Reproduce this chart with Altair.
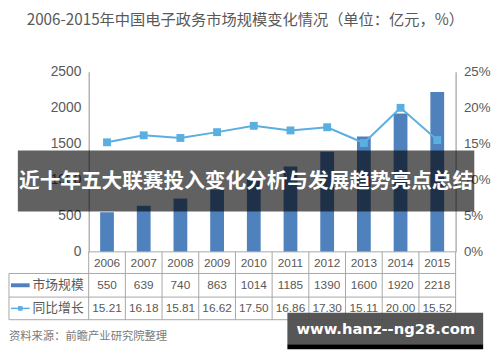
import altair as alt
import pandas as pd

years = ["2006", "2007", "2008", "2009", "2010", "2011", "2012", "2013", "2014", "2015"]
market = [550, 639, 740, 863, 1014, 1185, 1390, 1600, 1920, 2218]
growth = [15.21, 16.18, 15.81, 16.62, 17.50, 16.86, 17.30, 15.11, 20.00, 15.52]
left_ticks = [0, 500, 1000, 1500, 2000, 2500]
right_ticks = [0, 5, 10, 15, 20, 25]
title_text = "2006-2015年中国电子政务市场规模变化情况（单位：亿元，%）"
row_labels = ["市场规模", "同比增长"]
banner_text = "近十年五大联赛投入变化分析与发展趋势亮点总结"
source_text = "资料来源：前瞻产业研究院整理"
watermark_text = "www.hanz--ng28.com"

BAR = "#4f81bd"
LINE = "#5aaee0"
GRID = "#a6a6a6"
TXT = "#595959"
NUM_FONT = "Liberation Sans, Noto Sans CJK SC"
CJK_FONT = "Noto Sans CJK SC"

df = pd.DataFrame({"year": years, "market": market, "growth": growth})
one = pd.DataFrame({"k": [0]})

W, H = 373, 183
LEFT = -81


def xenc(**kw):
    return alt.X("year:N", sort=years, axis=None,
                 scale=alt.Scale(paddingInner=0, paddingOuter=0), **kw)


bars = alt.Chart(df).mark_bar(size=14, color=BAR).encode(
    x=xenc(),
    y=alt.Y("market:Q", scale=alt.Scale(domain=[0, 2500]),
            axis=alt.Axis(values=left_ticks, orient="left", grid=False, ticks=False,
                          format="d",
                          domainColor="#8c8c8c", labelColor=TXT, labelFontSize=14,
                          labelFont=NUM_FONT, labelPadding=8, title=None)),
)

line = alt.Chart(df).mark_line(
    color=LINE, strokeWidth=2,
    point=alt.OverlayMarkDef(shape="square", size=64, filled=True, color=LINE, opacity=1),
).encode(
    x=xenc(),
    y=alt.Y("growth:Q", scale=alt.Scale(domain=[0, 25]),
            axis=alt.Axis(values=right_ticks, orient="right", grid=False, ticks=False,
                          domainColor="#8c8c8c", labelColor=TXT, labelFontSize=13.5,
                          labelFont=NUM_FONT, labelPadding=8, title=None,
                          labelExpr="datum.value + '%'")),
)

# table grid
vlines = alt.Chart(df).mark_rule(color=GRID, strokeWidth=1).encode(
    x=xenc(bandPosition=0), y=alt.value(H), y2=alt.value(252))


def hrule(y, x0):
    return alt.Chart(one).mark_rule(color=GRID, strokeWidth=1).encode(
        x=alt.value(x0), x2=alt.value(W), y=alt.value(y))


grid_layers = [hrule(H, 0), hrule(205, LEFT), hrule(229, LEFT), hrule(252, LEFT),
               alt.Chart(one).mark_rule(color=GRID).encode(
                   x=alt.value(W), y=alt.value(H), y2=alt.value(252)),
               alt.Chart(one).mark_rule(color=GRID).encode(
                   x=alt.value(LEFT), y=alt.value(205), y2=alt.value(252))]

year_row = alt.Chart(df).mark_text(font=NUM_FONT, fontSize=12, color=TXT).encode(
    x=xenc(), y=alt.value(194), text="year:N")
val_row = alt.Chart(df).mark_text(font=NUM_FONT, fontSize=12, color=TXT).encode(
    x=xenc(), y=alt.value(217), text=alt.Text("market:Q", format="d"))
gr_row = alt.Chart(df).mark_text(font=NUM_FONT, fontSize=12, color=TXT).encode(
    x=xenc(), y=alt.value(240.5), text=alt.Text("growth:Q", format=".2f"))

lab1 = alt.Chart(one).mark_text(font=CJK_FONT, fontSize=13, color=TXT, align="left").encode(
    x=alt.value(-57), y=alt.value(217), text=alt.value(row_labels[0]))
lab2 = alt.Chart(one).mark_text(font=CJK_FONT, fontSize=13, color=TXT, align="left").encode(
    x=alt.value(-57), y=alt.value(240.5), text=alt.value(row_labels[1]))
sw1 = alt.Chart(one).mark_rule(color=BAR, strokeWidth=4).encode(
    x=alt.value(-79), x2=alt.value(-60), y=alt.value(217))
sw2 = alt.Chart(one).mark_rule(color=LINE, strokeWidth=1.5).encode(
    x=alt.value(-79), x2=alt.value(-60), y=alt.value(240.5))
sw2p = alt.Chart(one).mark_point(shape="square", size=22, filled=True, color=LINE, opacity=1).encode(
    x=alt.value(-69.5), y=alt.value(240.5))

title = alt.Chart(one).mark_text(font=CJK_FONT, fontSize=15.5, color=TXT, align="left",
                                 baseline="middle").encode(
    x=alt.value(-63), y=alt.value(-53), text=alt.value(title_text))

source = alt.Chart(one).mark_text(font=CJK_FONT, fontSize=11.5, color="#7a7a7a", align="left",
                                  baseline="middle").encode(
    x=alt.value(LEFT), y=alt.value(270), text=alt.value(source_text))

banner = alt.Chart(one).mark_rect(color="#000000", opacity=0.62).encode(
    x=alt.value(-72), x2=alt.value(392), y=alt.value(80), y2=alt.value(142))
banner_txt = alt.Chart(one).mark_text(font=CJK_FONT, fontSize=21, fontWeight="bold",
                                      color="#ffffff", baseline="middle").encode(
    x=alt.value(160), y=alt.value(112), text=alt.value(banner_text))

wm_box = alt.Chart(one).mark_rect(color="#4d4d4d", opacity=0.95).encode(
    x=alt.value(202), x2=alt.value(401), y=alt.value(245), y2=alt.value(277))
wm_stripe = alt.Chart(one).mark_rect(color="#000000").encode(
    x=alt.value(202), x2=alt.value(401), y=alt.value(277), y2=alt.value(282))
wm_txt = alt.Chart(one).mark_text(font="DejaVu Sans, Liberation Sans", fontSize=15,
                                  fontWeight="bold", color="#ffffff", baseline="middle").encode(
    x=alt.value(302), y=alt.value(262), text=alt.value(watermark_text))

chart = alt.layer(
    bars, line, vlines, *grid_layers, year_row, val_row, gr_row,
    lab1, lab2, sw1, sw2, sw2p, title, source,
    banner, banner_txt, wm_box, wm_stripe, wm_txt,
).resolve_scale(y="independent").properties(
    width=W, height=H,
    autosize=alt.AutoSizeParams(type="none"),
    padding={"left": 82, "top": 62, "right": 37, "bottom": 101},
).configure_view(stroke=None)

chart.save("out.html", embed_options={"renderer": "svg", "actions": False})
